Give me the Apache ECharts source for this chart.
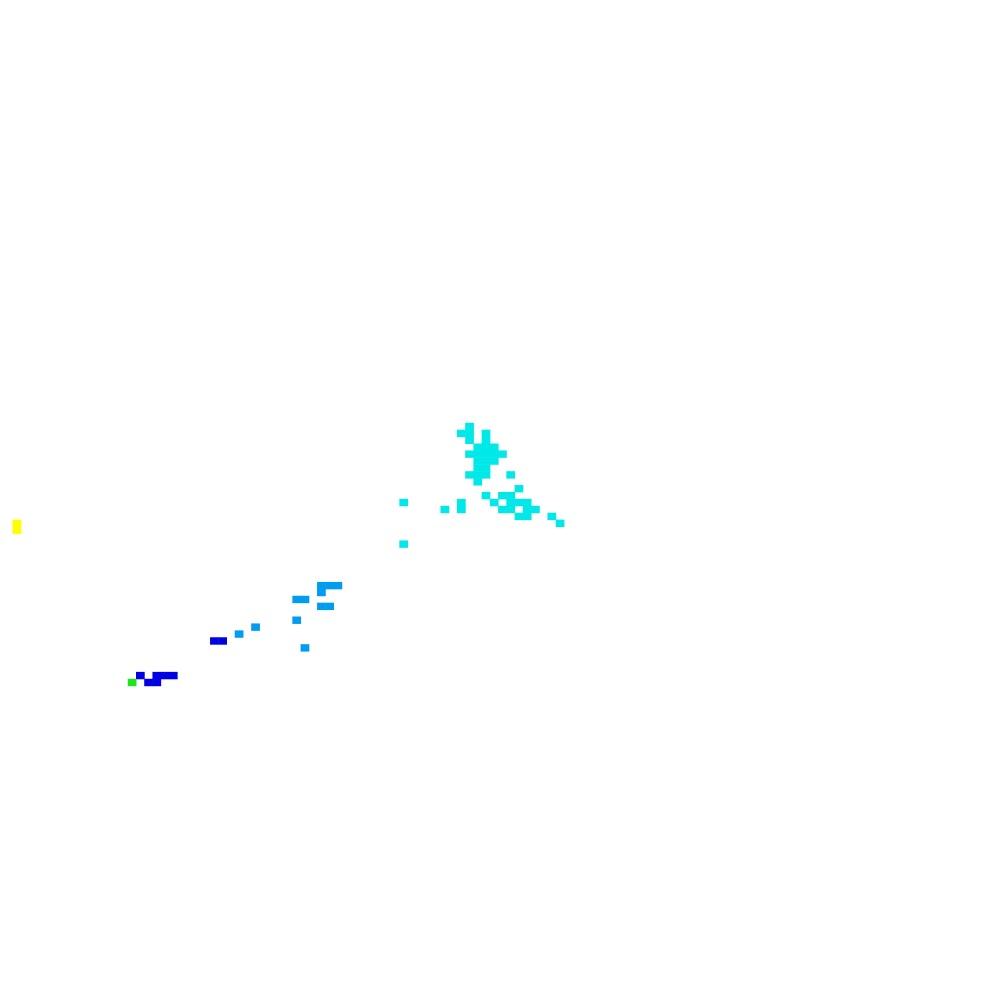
<!DOCTYPE html>
<html>
<head>
<meta charset="utf-8">
<script src="https://cdn.jsdelivr.net/npm/echarts@6/dist/echarts.min.js"></script>
<style>html,body{margin:0;padding:0;background:#fff}#c{width:1000px;height:1000px}</style>
</head>
<body>
<div id="c"></div>
<script>
// Grid of cells: column index, row index (row 0 at top)
const xCount = 120;
const yCount = 140;
const xCategories = Array.from({length: xCount}, (_, i) => String(i));
const yCategories = Array.from({length: yCount}, (_, i) => String(i));

// Intensity levels 1..5
const levelColors = ['#0000e6', '#009cf0', '#00e8e8', '#1ee61e', '#ffff00'];

// [column, row, level]
const cellsLevel1 = [
  [25, 91, 1], [26, 91, 1],
  [16, 96, 1], [18, 96, 1], [19, 96, 1], [20, 96, 1],
  [17, 97, 1], [18, 97, 1]
];
const cellsLevel2 = [
  [38, 83, 2], [39, 83, 2], [40, 83, 2],
  [38, 84, 2],
  [35, 85, 2], [36, 85, 2],
  [38, 86, 2], [39, 86, 2],
  [35, 88, 2],
  [30, 89, 2],
  [28, 90, 2],
  [36, 92, 2]
];
const cellsLevel3 = [
  [56, 60, 3],
  [55, 61, 3], [56, 61, 3], [58, 61, 3],
  [56, 62, 3], [58, 62, 3],
  [57, 63, 3], [58, 63, 3], [59, 63, 3],
  [56, 64, 3], [57, 64, 3], [58, 64, 3], [59, 64, 3], [60, 64, 3],
  [57, 65, 3], [58, 65, 3], [59, 65, 3],
  [57, 66, 3], [58, 66, 3],
  [56, 67, 3], [57, 67, 3], [58, 67, 3], [61, 67, 3],
  [57, 68, 3],
  [62, 69, 3],
  [58, 70, 3], [60, 70, 3], [61, 70, 3],
  [48, 71, 3], [55, 71, 3], [59, 71, 3], [61, 71, 3], [62, 71, 3], [63, 71, 3],
  [53, 72, 3], [55, 72, 3], [60, 72, 3], [61, 72, 3], [63, 72, 3], [64, 72, 3],
  [62, 73, 3], [63, 73, 3], [66, 73, 3],
  [67, 74, 3],
  [48, 77, 3]
];
const cellsLevel4 = [
  [15, 97, 4]
];
const cellsLevel5 = [
  [1, 74, 5], [1, 75, 5]
];

const allCells = [].concat(cellsLevel1, cellsLevel2, cellsLevel3, cellsLevel4, cellsLevel5);

const chart = echarts.init(document.getElementById('c'), null, {renderer: 'canvas'});
chart.setOption({
  animation: false,
  backgroundColor: '#ffffff',
  grid: {left: 4.55, top: 7.8, width: 8.23 * xCount, height: 6.92 * yCount, containLabel: false},
  xAxis: {
    type: 'category', data: xCategories, show: false,
    axisLine: {show: false}, axisTick: {show: false}, axisLabel: {show: false}, splitLine: {show: false}
  },
  yAxis: {
    type: 'category', data: yCategories, show: false, inverse: true,
    axisLine: {show: false}, axisTick: {show: false}, axisLabel: {show: false}, splitLine: {show: false}
  },
  visualMap: {
    type: 'piecewise', show: false, dimension: 2,
    pieces: levelColors.map((c, i) => ({value: i + 1, color: c}))
  },
  series: [{
    type: 'heatmap',
    data: allCells,
    itemStyle: {borderWidth: 0},
    emphasis: {disabled: true}
  }]
});
</script>
</body>
</html>
